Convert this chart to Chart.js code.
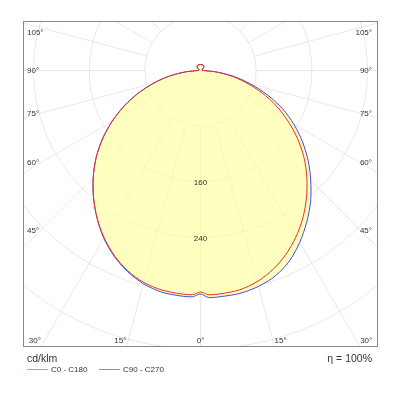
<!DOCTYPE html>
<html><head><meta charset="utf-8">
<script src="https://cdn.jsdelivr.net/npm/chart.js@4.4.0/dist/chart.umd.min.js"></script>
<style>html,body{margin:0;padding:0;background:#fff}</style>
</head><body>
<canvas id="c" width="400" height="400"></canvas>
<script>
// Gamma angles (deg from nadir) and intensities (cd/klm) per C-plane
const gammaAngles = [0, 2, 5, 10, 15, 20, 25, 30, 35, 40, 45, 50, 55, 60, 65, 70, 75, 80, 85, 90, 105, 120, 135, 150, 165, 180];
const c0Values   = [318, 322, 322, 320, 314, 304, 291, 275, 257, 237, 216, 194, 170, 145, 120, 94, 68, 44, 20, 3, 2, 3, 7, 8.5, 8.5, 8.5];
const c180Values = [318, 322, 322, 320, 315, 306, 293, 277, 259, 239, 218, 196, 172, 147, 121, 95, 69, 44, 20, 3, 2, 3, 7, 8.5, 8.5, 8.5];
const c90Values  = [322, 326, 326, 325, 321, 314, 302, 285, 266, 246, 224, 202, 179, 155, 130, 102, 74, 48, 22, 3, 2, 3, 7, 8.5, 8.5, 8.5];
const c270Values = [321, 325, 325, 323, 317, 307, 294, 278, 259, 239, 218, 196, 172, 147, 121, 95, 69, 44, 20, 3, 2, 3, 7, 8.5, 8.5, 8.5];
const radialTicks = [80, 160, 240, 320, 400, 480];
const radialTickLabels = [160, 240];
const sideAngleLabels = [45, 60, 75, 90, 105];
const bottomAngleLabels = [0, 15, 30];
const seriesNames = ['C0 - C180', 'C90 - C270'];
const seriesColors = ['rgb(235,45,45)', 'rgb(70,70,235)'];
const legendColors = ['rgb(245,135,135)', 'rgb(135,135,245)'];
const unitLabel = 'cd/klm';
const efficiencyLabel = 'η = 100%';

function toPoints(leftVals, rightVals) {
  const pts = [];
  for (let i = gammaAngles.length - 1; i >= 0; i--) {
    const a = gammaAngles[i] * Math.PI / 180;
    pts.push({x: -leftVals[i] * Math.sin(a), y: -leftVals[i] * Math.cos(a)});
  }
  for (let i = 1; i < gammaAngles.length; i++) {
    const a = gammaAngles[i] * Math.PI / 180;
    pts.push({x: rightVals[i] * Math.sin(a), y: -rightVals[i] * Math.cos(a)});
  }
  return pts;
}

const FONT = '"Liberation Sans", Arial, sans-serif';

const polarPlugin = {
  id: 'polarGrid',
  beforeDatasetsDraw(chart) {
    const {ctx, chartArea: ca, scales: {x, y}} = chart;
    const cx = x.getPixelForValue(0), cy = y.getPixelForValue(0);
    const k = x.getPixelForValue(1) - cx;
    ctx.save();
    ctx.beginPath(); ctx.rect(ca.left, ca.top, ca.width, ca.height); ctx.clip();
    ctx.strokeStyle = 'rgba(0,0,0,0.09)';
    ctx.lineWidth = 1;
    radialTicks.forEach(r => { ctx.beginPath(); ctx.arc(cx, cy, r * k, 0, 2 * Math.PI); ctx.stroke(); });
    for (let a = -180; a < 180; a += 15) {
      const rad = a * Math.PI / 180, dx = Math.sin(rad), dy = Math.cos(rad);
      ctx.beginPath();
      ctx.moveTo(cx + dx * radialTicks[0] * k, cy + dy * radialTicks[0] * k);
      ctx.lineTo(cx + dx * 1000, cy + dy * 1000);
      ctx.stroke();
    }
    ctx.restore();
  },
  afterDatasetsDraw(chart) {
    const {ctx, chartArea: ca, scales: {x, y}} = chart;
    const cx = x.getPixelForValue(0), cy = y.getPixelForValue(0);
    ctx.save();
    ctx.fillStyle = '#333';
    ctx.font = '8px ' + FONT;
    ctx.textAlign = 'center'; ctx.textBaseline = 'middle';
    radialTickLabels.forEach(v => ctx.fillText(String(v), cx, y.getPixelForValue(-v) + 1));
    sideAngleLabels.forEach(a => {
      const rad = a * Math.PI / 180;
      const t = (cx - (ca.left + 17)) / Math.sin(rad);
      let ly = cy + t * Math.cos(rad);
      ly = Math.max(ly, ca.top + 12);
      ctx.textAlign = 'left'; ctx.fillText(a + '°', ca.left + 4, ly);
      ctx.textAlign = 'right'; ctx.fillText(a + '°', ca.right - 6, ly);
    });
    const by = ca.bottom - 6;
    bottomAngleLabels.forEach(a => {
      const off = (ca.bottom - cy) * Math.tan(a * Math.PI / 180);
      if (a === 0) { ctx.textAlign = 'center'; ctx.fillText('0°', cx, by); return; }
      ctx.textAlign = 'right'; ctx.fillText(a + '°', cx - off, by);
      ctx.textAlign = 'left'; ctx.fillText(a + '°', cx + off, by);
    });
    ctx.strokeStyle = '#888'; ctx.lineWidth = 1;
    ctx.strokeRect(Math.round(ca.left) + 0.5, Math.round(ca.top) + 0.5, Math.round(ca.width) - 1, Math.round(ca.height) - 1);
    ctx.fillStyle = '#333';
    ctx.font = '10.5px ' + FONT;
    ctx.textBaseline = 'middle';
    ctx.textAlign = 'left'; ctx.fillText(unitLabel, ca.left + 4, ca.bottom + 12);
    ctx.textAlign = 'right'; ctx.fillText(efficiencyLabel, ca.right - 6, ca.bottom + 12);
    ctx.font = '8px ' + FONT;
    const ly = ca.bottom + 22.5;
    const starts = [ca.left + 4, ca.left + 76];
    seriesNames.forEach((n, i) => {
      ctx.strokeStyle = legendColors[i];
      ctx.beginPath(); ctx.moveTo(starts[i], ly); ctx.lineTo(starts[i] + 21, ly); ctx.stroke();
      ctx.fillStyle = '#333'; ctx.textAlign = 'left';
      ctx.fillText(n, starts[i] + 24, ly);
    });
    ctx.restore();
  }
};

new Chart(document.getElementById('c'), {
  type: 'scatter',
  data: {
    datasets: [
      {label: seriesNames[0], data: toPoints(c180Values, c0Values), showLine: true, borderColor: seriesColors[0], borderWidth: 1, pointRadius: 0, fill: false, tension: 0.3},
      {label: seriesNames[1], data: toPoints(c270Values, c90Values), showLine: true, borderColor: seriesColors[1], borderWidth: 1, pointRadius: 0, fill: 'shape', backgroundColor: 'rgba(255,255,150,0.6)', tension: 0.3}
    ]
  },
  options: {
    responsive: false,
    animation: false,
    devicePixelRatio: 1,
    layout: {padding: {left: 23, right: 22, top: 21, bottom: 53}},
    scales: {
      x: {type: 'linear', min: -255, max: 255, display: false},
      y: {type: 'linear', min: -397, max: 71, display: false}
    },
    plugins: {legend: {display: false}, tooltip: {enabled: false}}
  },
  plugins: [polarPlugin]
});
</script>
</body></html>
